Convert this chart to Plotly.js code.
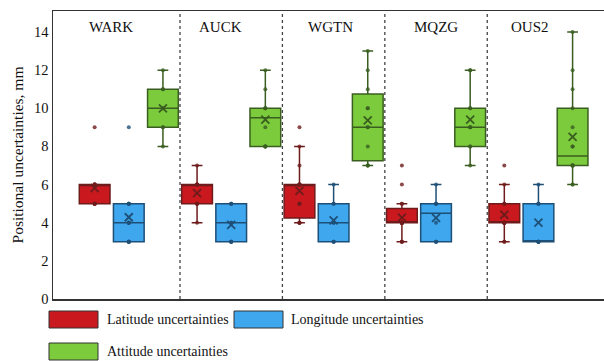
<!DOCTYPE html>
<html>
<head>
<meta charset="utf-8">
<script src="https://cdn.plot.ly/plotly-3.0.1.min.js"></script>
<style>html,body{margin:0;padding:0;background:#fff;}#chart{width:604px;height:361px;}</style>
</head>
<body>
<div id="chart"></div>
<script>
const stations = ['WARK', 'AUCK', 'WGTN', 'MQZG', 'OUS2'];
const seriesNames = ['Latitude uncertainties', 'Longitude uncertainties', 'Attitude uncertainties'];
const latitude = [
  [5, 5, 5, 5, 5, 6, 6, 6, 6, 6, 9],
  [4, 5, 5, 5, 6, 6, 6, 6, 7],
  [4, 4, 4, 4, 5, 5, 5, 6, 6, 6, 6, 6, 7, 8, 9],
  [3, 3, 3, 4, 4, 4, 4, 4, 4, 4, 4, 5, 5, 6, 7],
  [3, 3, 4, 4, 4, 4, 4, 4, 5, 5, 6, 7]
];
const longitude = [
  [3, 3, 3, 3, 3, 4, 4, 4, 4, 5, 5, 5, 5, 9],
  [3, 3, 3, 3, 4, 4, 5, 5, 5],
  [3, 3, 3, 4, 4, 5, 5, 6],
  [3, 3, 3, 4, 5, 5, 5, 6],
  [3, 3, 3, 3, 3, 5, 5, 5, 6]
];
const attitude = [
  [8, 9, 9, 10, 10, 11, 11, 12],
  [8, 8, 8, 8, 9, 10, 10, 10, 11, 12],
  [7, 7, 7, 8, 9, 9, 10, 10, 11, 12, 13],
  [7, 8, 8, 9, 9, 9, 10, 10, 12, 12],
  [6, 6, 7, 7, 7, 7, 7, 8, 8, 9, 10, 11, 12, 14]
];
const yTicks = [0, 2, 4, 6, 8, 10, 12, 14];

const FONT = 'Liberation Serif, Times New Roman, serif';
const fills = ['#C9191F', '#3FA7EE', '#7CCB3C'];
const lines = ['#6E1B1B', '#1E4F77', '#3A5E20'];
const dataSets = [latitude, longitude, attitude];

const traces = [];
dataSets.forEach((ds, k) => {
  const xs = [], ys = [];
  ds.forEach((vals, i) => vals.forEach(v => { xs.push(stations[i]); ys.push(v); }));
  traces.push({
    type: 'box', name: seriesNames[k], x: xs, y: ys,
    offsetgroup: 'g' + k, alignmentgroup: 'a',
    quartilemethod: 'linear',
    boxpoints: 'all', jitter: 0, pointpos: 0,
    fillcolor: fills[k],
    line: {color: lines[k], width: 1.5},
    marker: {color: lines[k], size: 4, opacity: 0.8},
    whiskerwidth: 0.35,
    showlegend: false, hoverinfo: 'y'
  });
});
dataSets.forEach((ds, k) => {
  traces.push({
    type: 'scatter', mode: 'markers', x: stations,
    y: ds.map(v => v.reduce((a, b) => a + b, 0) / v.length),
    offsetgroup: 'g' + k, alignmentgroup: 'a',
    marker: {symbol: 'x-thin-open', size: 8, line: {color: lines[k], width: 1.8}, color: lines[k]},
    showlegend: false, hoverinfo: 'y'
  });
});

// plot area in pixels
const L = 53, R = 604, T = 11, B = 299;
const px = x => (x - L) / (R - L);
const py = y => (B - y) / (B - T);

const shapes = [];
[0.5, 1.5, 2.5, 3.5].forEach(s => shapes.push({
  type: 'line', xref: 'x', yref: 'paper', x0: s, x1: s, y0: 0, y1: 1,
  line: {color: '#444', width: 1.3, dash: 'dot'}
}));
const annotations = [];
const labShift = [-18, -11, -3, 0, -8];
stations.forEach((s, i) => annotations.push({
  x: s, y: 14.25, xref: 'x', yref: 'y', text: s, showarrow: false, xshift: labShift[i],
  font: {family: FONT, size: 15, color: '#111'}
}));
// custom legend
const legPos = [[49, 311, 105], [234, 311, 289], [49, 343, 105]];
seriesNames.forEach((n, k) => {
  const [x0, y0, tx] = legPos[k];
  shapes.push({
    type: 'rect', xref: 'paper', yref: 'paper',
    x0: px(x0), x1: px(x0 + 49), y0: py(y0), y1: py(y0 + 17),
    fillcolor: fills[k], line: {color: '#333', width: 1}
  });
  annotations.push({
    xref: 'paper', yref: 'paper', x: px(tx), y: py(y0 + 8.5), xanchor: 'left', yanchor: 'middle',
    text: n, showarrow: false, font: {family: FONT, size: 14, color: '#111'}
  });
});

const layout = {
  width: 604, height: 361,
  margin: {l: L, r: 604 - R, t: T, b: 361 - B, pad: 0},
  paper_bgcolor: '#fff', plot_bgcolor: '#fff',
  font: {family: FONT},
  boxmode: 'group', boxgap: 0, boxgroupgap: 0.1,
  scattermode: 'group', scattergap: 0,
  showlegend: false,
  xaxis: {
    type: 'category', categoryorder: 'array', categoryarray: stations,
    range: [-0.74, 4.64], showticklabels: false, ticks: '',
    showgrid: false, zeroline: false,
    showline: true, mirror: true, linecolor: '#333', linewidth: 1.5
  },
  yaxis: {
    range: [0, 15.1], tickvals: yTicks, ticktext: yTicks.map(String),
    showgrid: false, zeroline: false, ticks: '',
    showline: true, linecolor: '#333', linewidth: 1.5,
    tickfont: {family: FONT, size: 14.5, color: '#111'},
    title: {text: 'Positional uncertainties, mm', font: {family: FONT, size: 15.5, color: '#111'}, standoff: 6}
  },
  shapes: shapes,
  annotations: annotations
};
Plotly.newPlot('chart', traces, layout, {displayModeBar: false, staticPlot: true});
</script>
</body>
</html>
